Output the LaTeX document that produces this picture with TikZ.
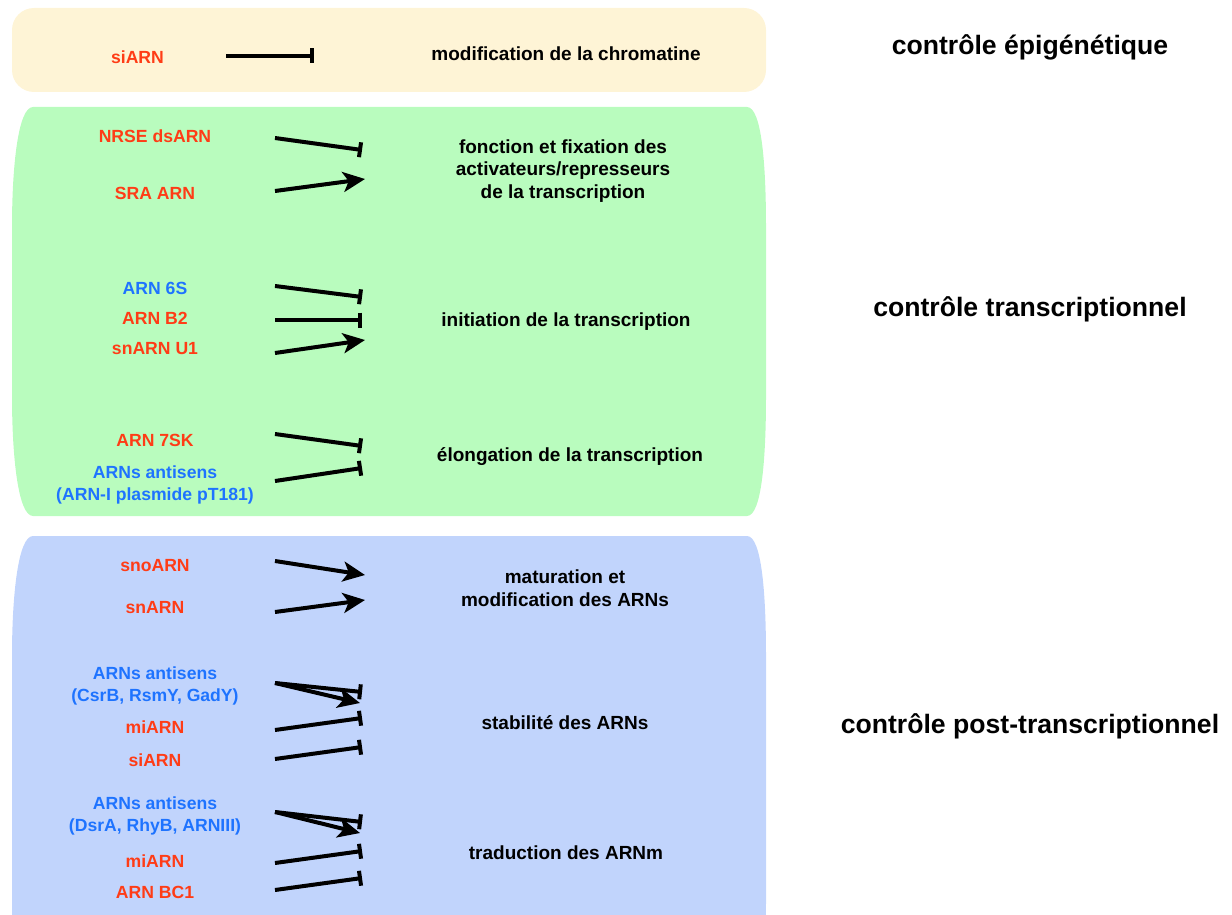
\documentclass[tikz,border=0pt]{standalone}
\usepackage{fontspec}
\setmainfont{Liberation Sans}
\usetikzlibrary{arrows.meta}
\definecolor{epi}{RGB}{254,244,214}
\definecolor{tra}{RGB}{185,252,190}
\definecolor{post}{RGB}{193,212,252}
\definecolor{rna}{RGB}{255,60,22}
\definecolor{anti}{RGB}{30,115,255}
\begin{document}
\begin{tikzpicture}[x=0.5pt,y=-0.5pt,
  lab/.style={font=\fontsize{8.8}{11}\selectfont\bfseries, align=center, inner sep=0pt, yshift=-1pt},
  rnalab/.style={lab, text=rna},
  antilab/.style={lab, text=anti},
  target/.style={font=\fontsize{9.5}{11.25}\selectfont\bfseries, align=center, inner sep=0pt, yshift=-1pt},
  level/.style={font=\fontsize{13.3}{16}\selectfont\bfseries, inner sep=0pt, yshift=-0.5pt},
  inh/.style={-{Bar[width=7.5pt]}, line width=2pt},
  act/.style={-{Stealth[length=11pt,width=10pt,inset=2.8pt]}, line width=2pt}]
\useasboundingbox (0,0) rectangle (1232,915);
\clip (0,0) rectangle (1232,915);
% boxes
\fill[epi, rounded corners=11pt] (12,8) rectangle (766,92);
\fill[tra] (33,107) -- (747,107) .. controls (762,107) and (766,167) .. (766,227)
  -- (766,396) .. controls (766,456) and (762,516) .. (747,516)
  -- (33,516) .. controls (18,516) and (12,456) .. (12,396)
  -- (12,227) .. controls (12,167) and (18,107) .. (33,107) -- cycle;
\fill[post] (33,536) -- (747,536) .. controls (762,536) and (766,596) .. (766,656)
  -- (766,900) .. controls (766,960) and (762,1010) .. (747,1010)
  -- (33,1010) .. controls (18,1010) and (12,960) .. (12,900)
  -- (12,656) .. controls (12,596) and (18,536) .. (33,536) -- cycle;
% level labels
\node[level] (lepi) at (1030,46) {contrôle épigénétique};
\node[level] (ltra) at (1030,308) {contrôle transcriptionnel};
\node[level] (lpost) at (1030,725) {contrôle post-transcriptionnel};
% targets
\node[target] (t1) at (566,52) {modification de la chromatine};
\node[target] (t2) at (563,169) {fonction et fixation des\\activateurs/represseurs\\de la transcription};
\node[target] (t3) at (566,320) {initiation de la transcription};
\node[target] (t4) at (570,455) {élongation de la transcription};
\node[target] (t5) at (565,586) {maturation et\\modification des ARNs};
\node[target] (t6) at (565,721) {stabilité des ARNs};
\node[target] (t7) at (566,851) {traduction des ARNm};
% regulators
\node[rnalab] (r1) at (137.5,55) {siARN};
\node[rnalab] (r2) at (155,134) {NRSE dsARN};
\node[rnalab] (r3) at (155,191) {SRA ARN};
\node[antilab] (r4) at (155,286) {ARN 6S};
\node[rnalab] (r5) at (155,316) {ARN B2};
\node[rnalab] (r6) at (155,347) {snARN U1};
\node[rnalab] (r7) at (155,438) {ARN 7SK};
\node[antilab] (r8) at (155,483) {ARNs antisens\\(ARN-I plasmide pT181)};
\node[rnalab] (r9) at (155,564) {snoARN};
\node[rnalab] (r10) at (155,606) {snARN};
\node[antilab] (r11) at (155,683.5) {ARNs antisens\\(CsrB, RsmY, GadY)};
\node[rnalab] (r12) at (155,725) {miARN};
\node[rnalab] (r13) at (155,758) {siARN};
\node[antilab] (r14) at (155,814) {ARNs antisens\\(DsrA, RhyB, ARNIII)};
\node[rnalab] (r15) at (155,859) {miARN};
\node[rnalab] (r16) at (155,890) {ARN BC1};
% connector end points
\coordinate (s1) at (226,56);  \coordinate (e1) at (314,56);
\coordinate (s2) at (275,138); \coordinate (e2) at (362,150);
\coordinate (s3) at (275,191); \coordinate (e3) at (365,179);
\coordinate (s4) at (275,286); \coordinate (e4) at (362,297);
\coordinate (s5) at (275,320); \coordinate (e5) at (362,320);
\coordinate (s6) at (275,353); \coordinate (e6) at (365,340);
\coordinate (s7) at (275,434); \coordinate (e7) at (362,446);
\coordinate (s8) at (275,481); \coordinate (e8) at (362,468);
\coordinate (s9) at (275,561); \coordinate (e9) at (365,575);
\coordinate (s10) at (275,612); \coordinate (e10) at (365,600);
\coordinate (s11) at (275,683); \coordinate (e11a) at (362,692); \coordinate (e11b) at (360,703);
\coordinate (s12) at (275,730); \coordinate (e12) at (362,718);
\coordinate (s13) at (275,759); \coordinate (e13) at (362,747);
\coordinate (s14) at (275,812); \coordinate (e14a) at (362,822); \coordinate (e14b) at (360,833);
\coordinate (s15) at (275,863); \coordinate (e15) at (362,851);
\coordinate (s16) at (275,890); \coordinate (e16) at (362,878);
% connectors
\draw[inh] (s1) -- (e1);
\draw[inh] (s2) -- (e2);
\draw[act] (s3) -- (e3);
\draw[inh] (s4) -- (e4);
\draw[inh] (s5) -- (e5);
\draw[act] (s6) -- (e6);
\draw[inh] (s7) -- (e7);
\draw[inh] (s8) -- (e8);
\draw[act] (s9) -- (e9);
\draw[act] (s10) -- (e10);
\draw[inh] (s11) -- (e11a);
\draw[act] (s11) -- (e11b);
\draw[inh] (s12) -- (e12);
\draw[inh] (s13) -- (e13);
\draw[inh] (s14) -- (e14a);
\draw[act] (s14) -- (e14b);
\draw[inh] (s15) -- (e15);
\draw[inh] (s16) -- (e16);
\end{tikzpicture}
\end{document}
